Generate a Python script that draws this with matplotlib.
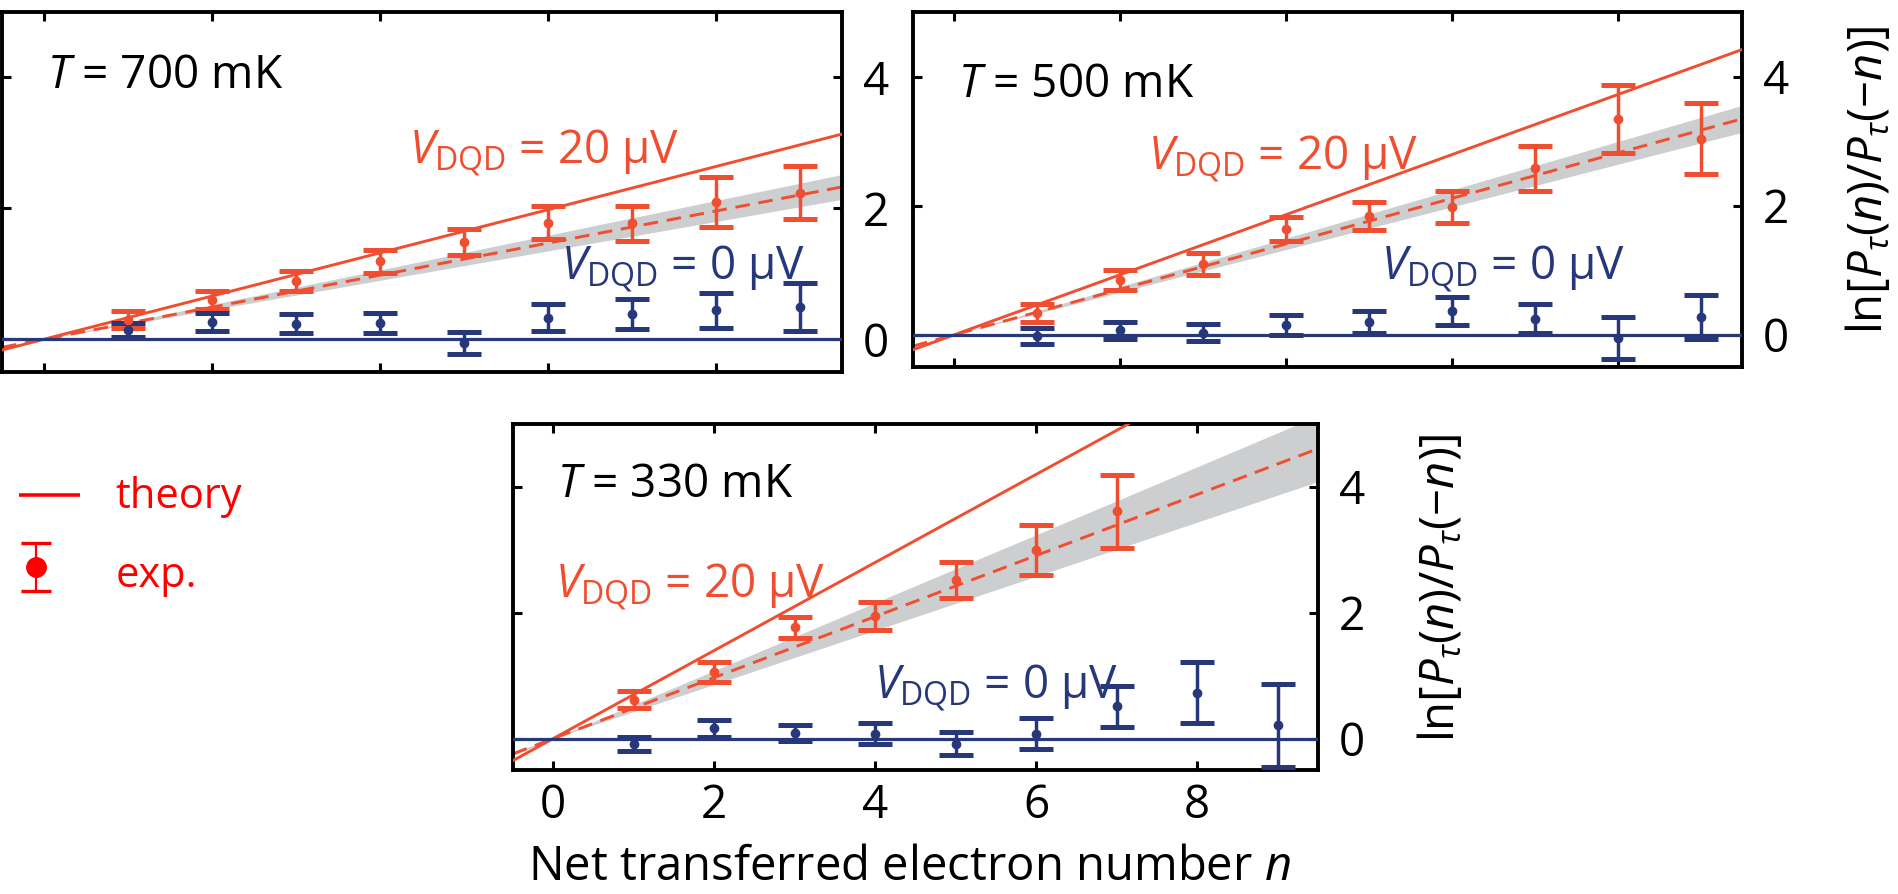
import numpy as np
import matplotlib
matplotlib.use("Agg")
import matplotlib.pyplot as plt

plt.rcParams['font.family'] = ['Open Sans', 'DejaVu Sans']
plt.rcParams['mathtext.fontset'] = 'custom'
plt.rcParams['mathtext.rm'] = 'Open Sans'
plt.rcParams['mathtext.it'] = 'Open Sans:italic'
plt.rcParams['mathtext.bf'] = 'Open Sans:bold'
plt.rcParams['mathtext.fallback'] = 'stixsans'

# ---------------- data ----------------
n_exp = [1, 2, 3, 4, 5, 6, 7, 8, 9]
n_exp_330_red = [1, 2, 3, 4, 5, 6, 7]
xticks = [0, 2, 4, 6, 8]
yticks = [0, 2, 4]

temperature_labels = ["700", "500", "330"]

red_700 = [0.30, 0.60, 0.89, 1.19, 1.48, 1.78, 1.77, 2.10, 2.24]
red_700_err = [0.13, 0.14, 0.16, 0.18, 0.20, 0.25, 0.27, 0.38, 0.41]
blue_700 = [0.14, 0.26, 0.24, 0.25, -0.06, 0.33, 0.38, 0.44, 0.49]
blue_700_err = [0.11, 0.14, 0.14, 0.15, 0.17, 0.21, 0.23, 0.27, 0.37]

red_500 = [0.34, 0.85, 1.10, 1.64, 1.84, 1.98, 2.58, 3.34, 3.04]
red_500_err = [0.14, 0.15, 0.17, 0.19, 0.21, 0.25, 0.35, 0.53, 0.55]
blue_500 = [-0.02, 0.07, 0.03, 0.15, 0.19, 0.37, 0.25, -0.05, 0.28]
blue_500_err = [0.13, 0.13, 0.13, 0.16, 0.17, 0.22, 0.23, 0.33, 0.34]

red_330 = [0.62, 1.06, 1.77, 1.95, 2.52, 3.00, 3.61]
red_330_err = [0.13, 0.16, 0.17, 0.22, 0.28, 0.40, 0.58]
blue_330 = [-0.09, 0.16, 0.09, 0.08, -0.08, 0.08, 0.51, 0.73, 0.21]
blue_330_err = [0.11, 0.13, 0.13, 0.16, 0.18, 0.24, 0.33, 0.49, 0.66]

theory_slope = [0.33, 0.465, 0.70]     # solid theory lines
fit_slope = [0.245, 0.352, 0.485]      # dashed fits
fit_slope_err = [0.02, 0.022, 0.055]   # grey bands

# ---------------- style ----------------
RED = '#F04E30'
BLUE = '#27387A'
GRAY = '#CDCED0'
LEGRED = '#FF0000'
W, H = 1899, 894
FS = 33

fig = plt.figure(figsize=(W / 100, H / 100), dpi=100)

# axes rectangles in pixel units (left, top, right, bottom)
rects = [(2, 12, 842, 372), (913, 12, 1742, 367), (513, 424, 1318, 770)]
axes = []
for (l, t, r, b) in rects:
    axes.append(fig.add_axes([l / W, 1 - b / H, (r - l) / W, (b - t) / H]))

reds = [red_700, red_500, red_330]
reds_err = [red_700_err, red_500_err, red_330_err]
red_n = [n_exp, n_exp, n_exp_330_red]
blues = [blue_700, blue_500, blue_330]
blues_err = [blue_700_err, blue_500_err, blue_330_err]

T_pos = [(0.054, 0.79), (0.054, 0.76), (0.055, 0.79)]
red_lab_pos = [(4.35, 2.70), (2.33, 2.57), (0.02, 2.25)]
blue_lab_pos = [(6.15, 0.92), (5.14, 0.87), (3.98, 0.64)]

xlim = (-0.5, 9.5)
ylim = (-0.5, 5.0)

for i, ax in enumerate(axes):
    xl = np.array(xlim)
    s, e = fit_slope[i], fit_slope_err[i]
    ax.fill_between(xl, (s - e) * xl, (s + e) * xl, color=GRAY, lw=0, zorder=1)
    ax.axline((0, 0), slope=s, color=RED, lw=2.1, ls=(0, (5.0, 3.0)), zorder=2)
    ax.axline((0, 0), slope=theory_slope[i], color=RED, lw=2.1, zorder=3)
    ax.axhline(0, color=BLUE, lw=2.3, zorder=3)
    ax.errorbar(red_n[i], reds[i], yerr=reds_err[i], fmt='o', color=RED,
                ms=6, elinewidth=2.5, capsize=12, capthick=3.6, zorder=4)
    ax.errorbar(n_exp, blues[i], yerr=blues_err[i], fmt='o', color=BLUE,
                ms=6, elinewidth=2.5, capsize=12, capthick=3.6, zorder=4)

    ax.text(*T_pos[i], r"$T$ = %s mK" % temperature_labels[i], transform=ax.transAxes,
            fontsize=FS, va='baseline', ha='left', color='black', zorder=6)
    ax.text(*red_lab_pos[i], r"$V_{\mathrm{DQD}}$ = 20 µV", fontsize=FS,
            va='baseline', ha='left', color=RED, zorder=6)
    ax.text(*blue_lab_pos[i], r"$V_{\mathrm{DQD}}$ = 0 µV", fontsize=FS,
            va='baseline', ha='left', color=BLUE, zorder=6)

    ax.set_xlim(*xlim)
    ax.set_ylim(*ylim)
    ax.set_xticks(xticks)
    ax.set_yticks(yticks)
    ax.tick_params(direction='in', length=6.5, width=2.2, top=True, bottom=True,
                   left=True, right=True, labelleft=False, labelright=True,
                   labelbottom=(i == 2), labelsize=FS)
    ax.tick_params(axis='y', pad=15)
    ax.tick_params(axis='x', pad=9)
    for sp in ax.spines.values():
        sp.set_linewidth(2.8)
        sp.set_color('black')

    if i > 0:
        ax.yaxis.set_label_position('right')
        ax.set_ylabel(r"$\mathrm{ln}[P_{\tau}(n)/P_{\tau}(-n)]$", fontsize=34,
                      rotation=90, va='center', ha='center')
        ax.yaxis.set_label_coords(1.152, 0.527)

ax3 = axes[2]
ax3.set_xlabel(r"Net transferred electron number $n$", fontsize=34)
ax3.xaxis.label.set_va('baseline')
ax3.xaxis.set_label_coords(0.493, -0.318)

# ---------------- hand-made legend ----------------
leg = fig.add_axes([0, 0, 1, 1])
leg.set_xlim(0, W)
leg.set_ylim(H, 0)
leg.axis('off')
leg.plot([19, 80], [495, 495], color=LEGRED, lw=2.6, solid_capstyle='butt')
leg.errorbar([36], [567], yerr=[24], fmt='o', color=LEGRED, ms=14,
             elinewidth=1.6, capsize=10.8, capthick=2.4)
leg.text(115, 508, "theory", color=LEGRED, fontsize=30, va='baseline', ha='left')
leg.text(116, 587, "exp.", color=LEGRED, fontsize=30, va='baseline', ha='left')

fig.savefig("out.png", dpi=100)
